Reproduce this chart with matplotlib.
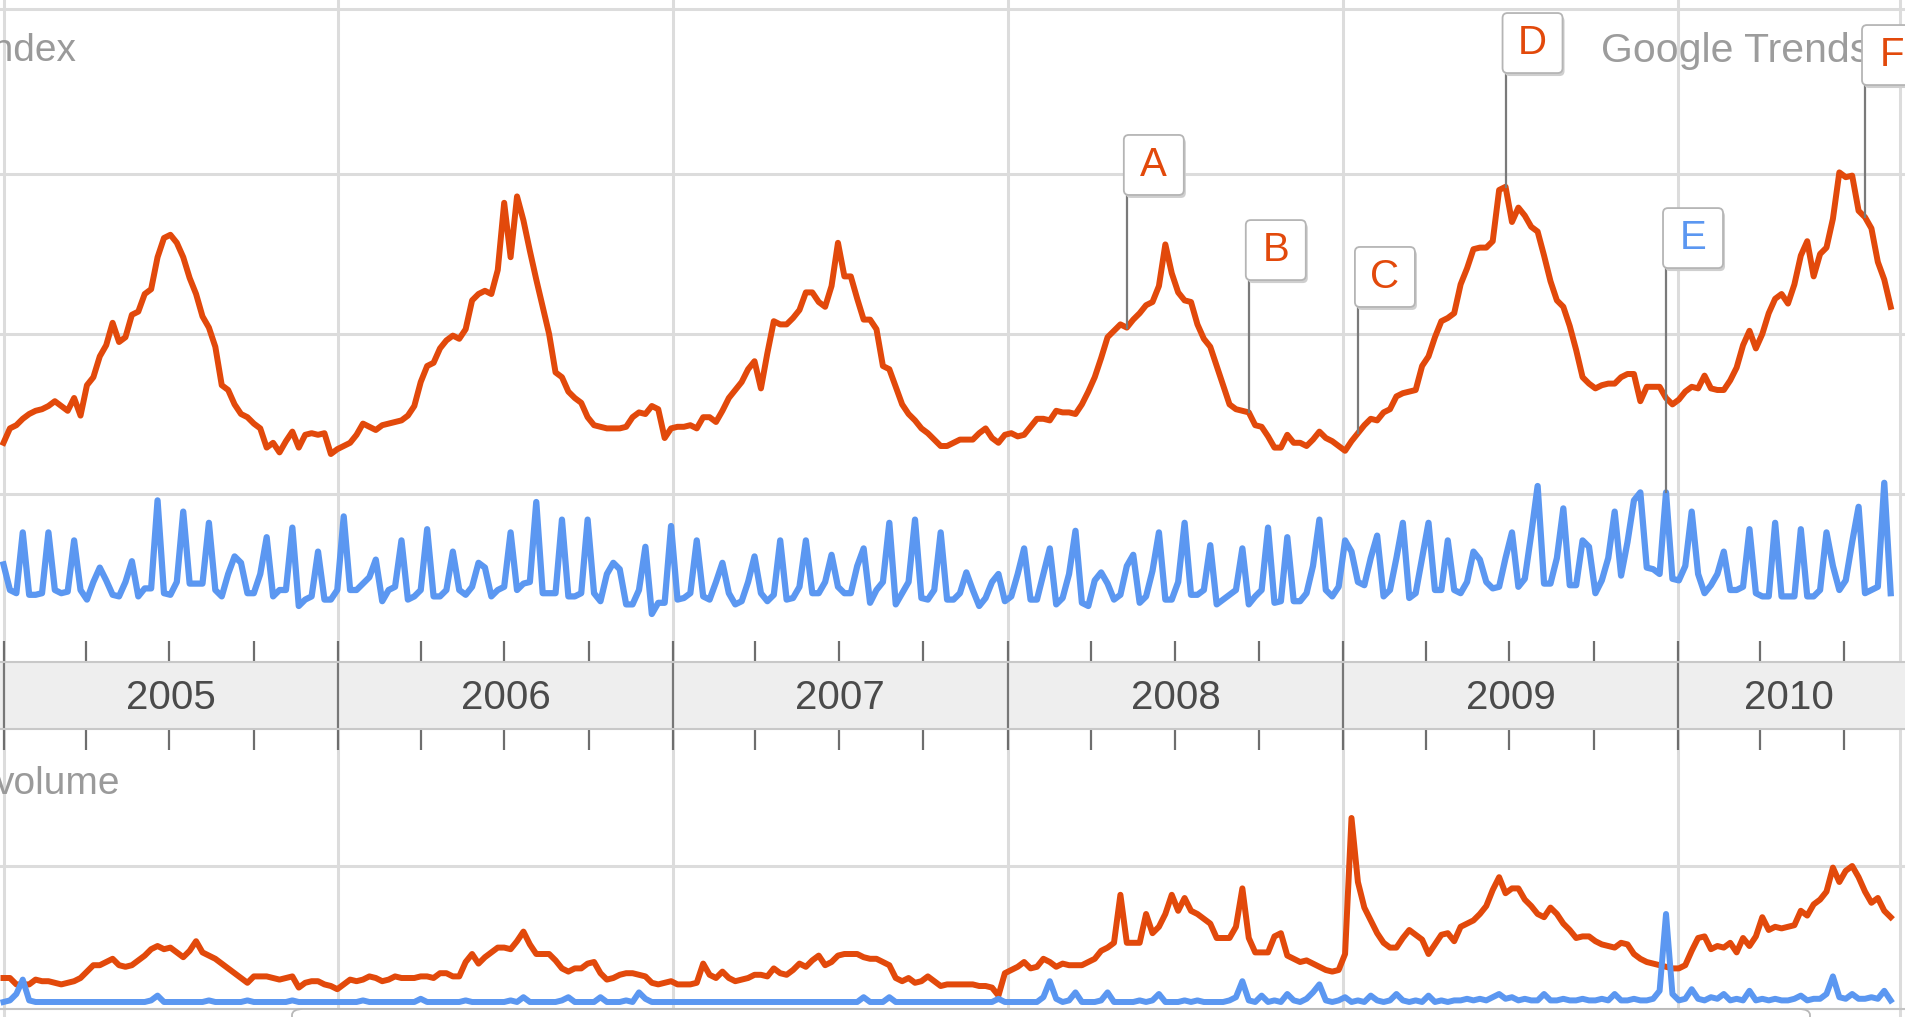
import datetime as dt
import numpy as np
import matplotlib
matplotlib.use('Agg')
import matplotlib.pyplot as plt
import matplotlib.dates as mdates
from matplotlib.patches import FancyBboxPatch

plt.rcParams['font.family'] = ['Liberation Sans', 'DejaVu Sans']

# weekly values, first week starts 2005-01-01
search_orange = [
    1.32, 1.41, 1.43, 1.47, 1.50, 1.52, 1.53, 1.55, 1.58, 1.55,
    1.52, 1.60, 1.49, 1.68, 1.73, 1.86, 1.93, 2.07, 1.95, 1.98,
    2.12, 2.14, 2.25, 2.28, 2.48, 2.60, 2.62, 2.57, 2.48, 2.35,
    2.25, 2.11, 2.04, 1.92, 1.68, 1.65, 1.56, 1.50, 1.48, 1.44,
    1.41, 1.29, 1.32, 1.26, 1.33, 1.39, 1.29, 1.37, 1.38, 1.37,
    1.38, 1.25, 1.28, 1.30, 1.32, 1.37, 1.44, 1.42, 1.40, 1.43,
    1.44, 1.45, 1.46, 1.49, 1.55, 1.70, 1.80, 1.82, 1.91, 1.96,
    1.99, 1.97, 2.03, 2.21, 2.25, 2.27, 2.25, 2.40, 2.82, 2.48,
    2.86, 2.71, 2.52, 2.34, 2.17, 2.00, 1.76, 1.73, 1.64, 1.60,
    1.57, 1.48, 1.43, 1.42, 1.41, 1.41, 1.41, 1.42, 1.48, 1.51,
    1.50, 1.55, 1.53, 1.35, 1.41, 1.42, 1.42, 1.43, 1.41, 1.48,
    1.48, 1.45, 1.52, 1.60, 1.65, 1.70, 1.78, 1.83, 1.66, 1.88,
    2.08, 2.06, 2.06, 2.10, 2.15, 2.26, 2.26, 2.20, 2.17, 2.30,
    2.57, 2.36, 2.36, 2.22, 2.09, 2.09, 2.03, 1.80, 1.78, 1.67,
    1.56, 1.50, 1.46, 1.41, 1.38, 1.34, 1.30, 1.30, 1.32, 1.34,
    1.34, 1.34, 1.38, 1.41, 1.35, 1.32, 1.37, 1.38, 1.36, 1.37,
    1.42, 1.47, 1.47, 1.46, 1.52, 1.51, 1.51, 1.50, 1.56, 1.64,
    1.73, 1.85, 1.98, 2.02, 2.06, 2.04, 2.09, 2.13, 2.18, 2.20,
    2.30, 2.56, 2.38, 2.26, 2.21, 2.20, 2.06, 1.97, 1.92, 1.80,
    1.68, 1.56, 1.53, 1.52, 1.51, 1.43, 1.42, 1.36, 1.29, 1.29,
    1.37, 1.32, 1.32, 1.30, 1.34, 1.39, 1.35, 1.33, 1.30, 1.27,
    1.33, 1.38, 1.43, 1.47, 1.46, 1.51, 1.53, 1.61, 1.63, 1.64,
    1.65, 1.80, 1.86, 1.98, 2.08, 2.10, 2.13, 2.31, 2.41, 2.53,
    2.54, 2.54, 2.58, 2.90, 2.92, 2.70, 2.79, 2.74, 2.67, 2.64,
    2.49, 2.33, 2.21, 2.17, 2.05, 1.90, 1.73, 1.69, 1.66, 1.68,
    1.69, 1.69, 1.73, 1.75, 1.75, 1.58, 1.67, 1.67, 1.67, 1.60,
    1.56, 1.59, 1.64, 1.67, 1.66, 1.74, 1.66, 1.65, 1.65, 1.71,
    1.79, 1.93, 2.02, 1.91, 2.00, 2.13, 2.22, 2.25, 2.19, 2.31,
    2.49, 2.58, 2.36, 2.50, 2.54, 2.72, 3.01, 2.98, 2.99, 2.77,
    2.73, 2.66, 2.45, 2.34, 2.17,
]

search_blue = [
    0.56, 0.40, 0.38, 0.76, 0.37, 0.37, 0.38, 0.76, 0.40, 0.38,
    0.39, 0.71, 0.40, 0.34, 0.45, 0.54, 0.46, 0.37, 0.36, 0.45,
    0.58, 0.36, 0.41, 0.41, 0.96, 0.38, 0.37, 0.45, 0.89, 0.44,
    0.44, 0.44, 0.82, 0.40, 0.36, 0.50, 0.61, 0.57, 0.38, 0.38,
    0.50, 0.73, 0.36, 0.40, 0.40, 0.79, 0.30, 0.34, 0.36, 0.64,
    0.34, 0.34, 0.40, 0.86, 0.40, 0.40, 0.44, 0.48, 0.59, 0.33,
    0.40, 0.42, 0.71, 0.34, 0.36, 0.40, 0.78, 0.36, 0.36, 0.40,
    0.64, 0.40, 0.37, 0.42, 0.57, 0.54, 0.36, 0.40, 0.42, 0.76,
    0.40, 0.44, 0.45, 0.95, 0.38, 0.38, 0.38, 0.84, 0.36, 0.36,
    0.38, 0.84, 0.38, 0.33, 0.50, 0.57, 0.53, 0.31, 0.31, 0.40,
    0.67, 0.25, 0.32, 0.32, 0.80, 0.34, 0.35, 0.38, 0.71, 0.36,
    0.34, 0.45, 0.57, 0.38, 0.31, 0.33, 0.45, 0.61, 0.38, 0.33,
    0.37, 0.71, 0.34, 0.35, 0.42, 0.71, 0.38, 0.38, 0.45, 0.62,
    0.42, 0.38, 0.38, 0.55, 0.66, 0.32, 0.40, 0.45, 0.82, 0.31,
    0.38, 0.45, 0.84, 0.35, 0.34, 0.40, 0.76, 0.34, 0.34, 0.38,
    0.51, 0.40, 0.30, 0.35, 0.45, 0.50, 0.33, 0.36, 0.50, 0.66,
    0.34, 0.34, 0.50, 0.66, 0.31, 0.35, 0.50, 0.77, 0.32, 0.30,
    0.46, 0.51, 0.44, 0.34, 0.37, 0.55, 0.62, 0.32, 0.36, 0.52,
    0.76, 0.34, 0.34, 0.45, 0.82, 0.37, 0.37, 0.40, 0.68, 0.31,
    0.34, 0.37, 0.40, 0.66, 0.31, 0.36, 0.40, 0.79, 0.32, 0.33,
    0.73, 0.33, 0.33, 0.38, 0.55, 0.84, 0.40, 0.36, 0.42, 0.71,
    0.64, 0.45, 0.43, 0.60, 0.74, 0.36, 0.40, 0.60, 0.82, 0.35,
    0.38, 0.60, 0.82, 0.40, 0.40, 0.71, 0.40, 0.38, 0.45, 0.64,
    0.59, 0.45, 0.41, 0.42, 0.60, 0.76, 0.42, 0.47, 0.75, 1.05,
    0.44, 0.44, 0.60, 0.91, 0.43, 0.43, 0.71, 0.67, 0.38, 0.46,
    0.60, 0.89, 0.49, 0.70, 0.96, 1.01, 0.54, 0.53, 0.50, 1.01,
    0.47, 0.46, 0.55, 0.89, 0.50, 0.38, 0.43, 0.50, 0.64, 0.40,
    0.40, 0.42, 0.78, 0.38, 0.36, 0.36, 0.82, 0.36, 0.36, 0.36,
    0.78, 0.36, 0.36, 0.40, 0.76, 0.55, 0.40, 0.46, 0.70, 0.92,
    0.38, 0.40, 0.42, 1.07, 0.38,
]

news_orange = [
    0.30, 0.30, 0.26, 0.26, 0.26, 0.29, 0.28, 0.28, 0.27, 0.26,
    0.27, 0.28, 0.30, 0.34, 0.38, 0.38, 0.40, 0.42, 0.38, 0.37,
    0.38, 0.41, 0.44, 0.48, 0.50, 0.48, 0.49, 0.46, 0.43, 0.47,
    0.53, 0.46, 0.44, 0.42, 0.39, 0.36, 0.33, 0.30, 0.27, 0.31,
    0.31, 0.31, 0.30, 0.29, 0.30, 0.31, 0.24, 0.27, 0.28, 0.28,
    0.26, 0.25, 0.23, 0.26, 0.29, 0.28, 0.29, 0.31, 0.30, 0.28,
    0.29, 0.31, 0.30, 0.30, 0.30, 0.31, 0.31, 0.30, 0.33, 0.33,
    0.31, 0.31, 0.40, 0.45, 0.39, 0.43, 0.46, 0.49, 0.49, 0.48,
    0.53, 0.59, 0.51, 0.45, 0.45, 0.45, 0.41, 0.36, 0.34, 0.36,
    0.36, 0.39, 0.40, 0.33, 0.29, 0.30, 0.32, 0.33, 0.33, 0.32,
    0.31, 0.27, 0.26, 0.27, 0.28, 0.26, 0.26, 0.26, 0.27, 0.39,
    0.32, 0.30, 0.34, 0.30, 0.28, 0.29, 0.30, 0.32, 0.32, 0.31,
    0.36, 0.33, 0.32, 0.35, 0.39, 0.37, 0.41, 0.44, 0.38, 0.40,
    0.44, 0.45, 0.45, 0.45, 0.43, 0.42, 0.42, 0.40, 0.38, 0.30,
    0.28, 0.30, 0.27, 0.28, 0.31, 0.28, 0.25, 0.26, 0.26, 0.26,
    0.26, 0.26, 0.25, 0.25, 0.24, 0.19, 0.33, 0.35, 0.37, 0.40,
    0.36, 0.37, 0.42, 0.40, 0.37, 0.39, 0.38, 0.38, 0.38, 0.40,
    0.42, 0.47, 0.49, 0.52, 0.82, 0.52, 0.52, 0.52, 0.70, 0.58,
    0.62, 0.70, 0.82, 0.72, 0.80, 0.72, 0.70, 0.67, 0.64, 0.55,
    0.55, 0.55, 0.62, 0.86, 0.55, 0.46, 0.46, 0.46, 0.56, 0.58,
    0.44, 0.42, 0.40, 0.41, 0.39, 0.37, 0.35, 0.34, 0.35, 0.45,
    1.30, 0.90, 0.74, 0.66, 0.58, 0.52, 0.49, 0.49, 0.55, 0.60,
    0.57, 0.54, 0.45, 0.51, 0.57, 0.58, 0.53, 0.62, 0.64, 0.66,
    0.70, 0.75, 0.85, 0.93, 0.83, 0.86, 0.86, 0.79, 0.75, 0.70,
    0.68, 0.74, 0.70, 0.64, 0.60, 0.55, 0.56, 0.56, 0.53, 0.51,
    0.50, 0.49, 0.52, 0.51, 0.45, 0.42, 0.40, 0.39, 0.38, 0.37,
    0.36, 0.36, 0.38, 0.47, 0.55, 0.56, 0.48, 0.50, 0.49, 0.52,
    0.46, 0.55, 0.50, 0.56, 0.68, 0.60, 0.62, 0.61, 0.62, 0.63,
    0.72, 0.69, 0.76, 0.79, 0.84, 0.99, 0.90, 0.97, 1.00, 0.93,
    0.84, 0.77, 0.80, 0.72, 0.68,
]

news_blue = [
    0.15, 0.16, 0.20, 0.29, 0.16, 0.15, 0.15, 0.15, 0.15, 0.15,
    0.15, 0.15, 0.15, 0.15, 0.15, 0.15, 0.15, 0.15, 0.15, 0.15,
    0.15, 0.15, 0.15, 0.16, 0.19, 0.15, 0.15, 0.15, 0.15, 0.15,
    0.15, 0.15, 0.16, 0.15, 0.15, 0.15, 0.15, 0.15, 0.16, 0.15,
    0.15, 0.15, 0.15, 0.15, 0.15, 0.16, 0.15, 0.15, 0.15, 0.15,
    0.15, 0.15, 0.15, 0.15, 0.15, 0.15, 0.16, 0.15, 0.15, 0.15,
    0.15, 0.15, 0.15, 0.15, 0.15, 0.17, 0.15, 0.15, 0.15, 0.15,
    0.15, 0.15, 0.16, 0.15, 0.15, 0.15, 0.15, 0.15, 0.15, 0.16,
    0.15, 0.18, 0.15, 0.15, 0.15, 0.15, 0.15, 0.16, 0.18, 0.15,
    0.15, 0.15, 0.15, 0.18, 0.15, 0.15, 0.15, 0.16, 0.15, 0.21,
    0.17, 0.15, 0.15, 0.15, 0.15, 0.15, 0.15, 0.15, 0.15, 0.15,
    0.15, 0.15, 0.15, 0.15, 0.15, 0.15, 0.15, 0.15, 0.15, 0.15,
    0.15, 0.15, 0.15, 0.15, 0.15, 0.15, 0.15, 0.15, 0.15, 0.15,
    0.15, 0.15, 0.15, 0.15, 0.18, 0.15, 0.15, 0.15, 0.18, 0.15,
    0.15, 0.15, 0.15, 0.15, 0.15, 0.15, 0.15, 0.15, 0.15, 0.15,
    0.15, 0.15, 0.15, 0.15, 0.15, 0.17, 0.15, 0.15, 0.15, 0.15,
    0.15, 0.15, 0.18, 0.28, 0.17, 0.15, 0.16, 0.21, 0.15, 0.15,
    0.15, 0.16, 0.21, 0.15, 0.15, 0.15, 0.15, 0.16, 0.15, 0.16,
    0.20, 0.15, 0.15, 0.15, 0.16, 0.15, 0.16, 0.15, 0.15, 0.15,
    0.15, 0.16, 0.18, 0.28, 0.16, 0.15, 0.19, 0.15, 0.16, 0.15,
    0.20, 0.16, 0.15, 0.17, 0.21, 0.26, 0.16, 0.15, 0.16, 0.18,
    0.15, 0.16, 0.15, 0.19, 0.16, 0.15, 0.16, 0.20, 0.16, 0.15,
    0.16, 0.15, 0.19, 0.15, 0.16, 0.15, 0.16, 0.16, 0.17, 0.16,
    0.17, 0.16, 0.18, 0.20, 0.17, 0.18, 0.16, 0.17, 0.16, 0.16,
    0.20, 0.16, 0.16, 0.17, 0.16, 0.16, 0.17, 0.16, 0.16, 0.17,
    0.16, 0.20, 0.16, 0.16, 0.17, 0.16, 0.16, 0.17, 0.22, 0.70,
    0.20, 0.16, 0.17, 0.23, 0.17, 0.16, 0.18, 0.17, 0.20, 0.16,
    0.17, 0.16, 0.22, 0.16, 0.17, 0.16, 0.17, 0.16, 0.16, 0.17,
    0.19, 0.16, 0.17, 0.17, 0.20, 0.31, 0.18, 0.17, 0.20, 0.17,
    0.17, 0.18, 0.17, 0.22, 0.16,
]

years = [2005, 2006, 2007, 2008, 2009, 2010]
year_labels = ['2005', '2006', '2007', '2008', '2009', '2010']

# news markers: letter, week index, which series it points at
marker_letters = ['A', 'B', 'C', 'D', 'E', 'F']
marker_weeks = [175, 194, 211, 234, 259, 290]
marker_series = ['orange', 'orange', 'orange', 'orange', 'blue', 'orange']
marker_box_top = [3.244, 2.712, 2.544, 4.006, 2.787, 3.931]   # layout only

ORANGE = '#e2490b'
BLUE = '#5b97f1'
GRID = '#dcdcdc'

start = dt.date(2005, 1, 1)
d0 = mdates.date2num(start)
PX_DAY = 0.917          # pixels per day
W, H = 1905.0, 1017.0
xleft = d0 - 3.5 / PX_DAY
xright = xleft + W / PX_DAY
xborder = xleft + 1900 / PX_DAY


def weeks(n):
    return d0 + 7 * np.arange(n)


def px_days(p):
    return p / PX_DAY


fig = plt.figure(figsize=(W / 100, H / 100), dpi=100)


def rect(top, bottom):
    return [0, 1 - bottom / H, 1, (bottom - top) / H]


ax_top = fig.add_axes(rect(0, 662))
ax_bot = fig.add_axes(rect(729, 1017))
ax_band = fig.add_axes(rect(662, 729))

ax_top.set_ylim(-0.05, 654 / 160)
ax_bot.set_ylim((1026 - 1017) / 160, (1026 - 729) / 160)
for ax in (ax_top, ax_bot):
    ax.set_xlim(xleft, xright)
    ax.axis('off')

year_dates = [mdates.date2num(dt.date(y, 1, 1)) for y in years]

# grid
for ax in (ax_top, ax_bot):
    for xd in year_dates:
        ax.axvline(xd, color=GRID, lw=2.2, zorder=1)
    ax.axvline(xborder, color=GRID, lw=2.2, zorder=1)
for v in [1, 2, 3, (654 - 8.5) / 160]:
    ax_top.axhline(v, color=GRID, lw=2.2, zorder=1)
ax_bot.axhline(1.0, color=GRID, lw=2.2, zorder=1)
ax_bot.axhline((1026 - 1009) / 160, color='#c4c4c4', lw=1.5, zorder=1)

# series
ax_top.plot(weeks(len(search_orange)), search_orange, color=ORANGE, lw=4.3,
            solid_joinstyle='round', zorder=3)
ax_top.plot(weeks(len(search_blue)), search_blue, color=BLUE, lw=4.5,
            solid_joinstyle='round', zorder=3)
ax_bot.plot(weeks(len(news_orange)), news_orange, color=ORANGE, lw=4.3,
            solid_joinstyle='round', zorder=3)
ax_bot.plot(weeks(len(news_blue)), news_blue, color=BLUE, lw=4.3,
            solid_joinstyle='round', zorder=4)

# labels (cut at the left edge, as in the original screenshot)
ax_top.text(-17 / W, 1 - 51 / 662, 'index', transform=ax_top.transAxes,
            fontsize=28, color='#9a9a9a', va='center', ha='left')
ax_top.text(1601 / W, 1 - 51 / 662, 'Google Trends', transform=ax_top.transAxes,
            fontsize=29.5, color='#9c9c9c', va='center', ha='left', zorder=2)
ax_bot.text(-5 / W, (1017 - 784) / 288, 'volume', transform=ax_bot.transAxes,
            fontsize=28, color='#9a9a9a', va='center', ha='left')

# news markers
aspect = PX_DAY / 160
bw, bh = px_days(60), 60 / 160
for letter, wk, ser, top in zip(marker_letters, marker_weeks, marker_series, marker_box_top):
    xd = d0 + 7 * wk
    yv = search_orange[wk] if ser == 'orange' else search_blue[wk]
    col = ORANGE if ser == 'orange' else BLUE
    bx = xd - px_days(3)
    by = top - bh
    ax_top.plot([xd, xd], [yv, by], color='#7a7a7a', lw=1.6, zorder=5)
    shadow = FancyBboxPatch((bx + px_days(2), by - 3 / 160), bw, bh,
                            boxstyle='round,pad=0,rounding_size=%f' % px_days(5),
                            mutation_aspect=aspect, fc='#cfcfcf', ec='none', zorder=6)
    box = FancyBboxPatch((bx, by), bw, bh,
                         boxstyle='round,pad=0,rounding_size=%f' % px_days(5),
                         mutation_aspect=aspect, fc='white', ec='#b5b5b5', lw=1.3, zorder=7)
    ax_top.add_patch(shadow)
    ax_top.add_patch(box)
    ax_top.text(bx + bw / 2, by + bh / 2, letter, color=col, fontsize=29,
                ha='center', va='center', zorder=8)

# year band with quarter ticks
ax_band.set_facecolor('#eeeeee')
ax_band.set_xlim(xleft, xright)
ax_band.set_ylim(0, 1)
for s in ('left', 'right'):
    ax_band.spines[s].set_visible(False)
for s in ('top', 'bottom'):
    ax_band.spines[s].set_color('#c8c8c8')
    ax_band.spines[s].set_linewidth(1.5)
quarters = []
for y in years:
    for m in (1, 4, 7, 10):
        d = dt.date(y, m, 1)
        if mdates.date2num(d) < xborder:
            quarters.append(mdates.date2num(d))
ax_band.set_xticks(quarters)
ax_band.set_yticks([])
ax_band.tick_params(axis='x', direction='out', length=15, width=1.6, color='#6e6e6e',
                    top=True, bottom=True, labelbottom=False, labeltop=False)
for xd in year_dates:
    ax_band.axvline(xd, color='#777777', lw=1.6)
for i, lab in enumerate(year_labels):
    a = max(year_dates[i], xleft)
    b = year_dates[i + 1] if i + 1 < len(year_dates) else xborder
    ax_band.text((a + b) / 2, 0.47, lab, ha='center', va='center',
                 fontsize=29, color='#4a4a4a')

# scrollbar outline at the bottom edge
scroll = FancyBboxPatch((292 / W, -12 / H), 1518 / W, 20 / H,
                        boxstyle='round,pad=0,rounding_size=0.006',
                        transform=fig.transFigure, fc='white', ec='#b8b8b8', lw=1.3)
fig.patches.append(scroll)

fig.savefig('out.png', dpi=100)
